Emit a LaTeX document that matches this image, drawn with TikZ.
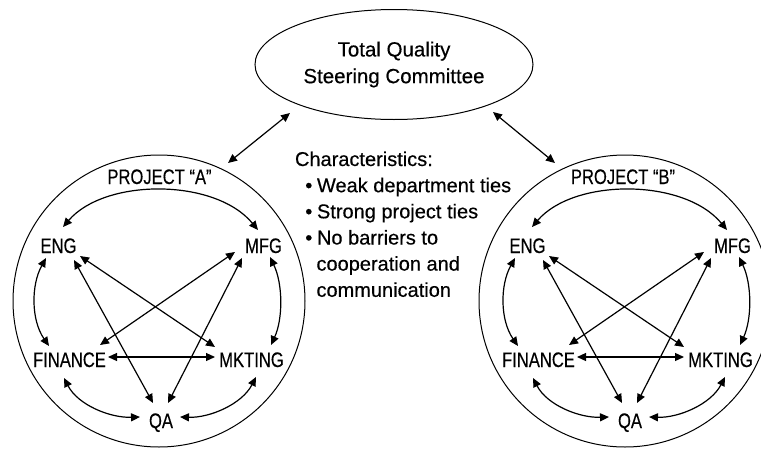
\documentclass[tikz,border=0pt]{standalone}
\usepackage{fontspec}
\setmainfont{Liberation Sans}[FakeBold=0.4]
\usetikzlibrary{arrows.meta,shapes.geometric}
\newcommand\cond[1]{\scalebox{0.79}[1]{#1}}
% #1 prefix, #2 letter, #3 circle centre x, #4 title x, #5 node shift
\newcommand\drawproj[5]{%
  \node[ring] (#1circ) at (#3,301) {};
  \node[lab,anchor=base] (#1title) at (#4,184) {\cond{PROJECT “#2”}};
  \begin{scope}[xshift=#5pt]
    \node[lab,anchor=base] (#1eng) at (58.5,253) {\cond{ENG}};
    \node[lab,anchor=base] (#1mfg) at (263.5,253) {\cond{MFG}};
    \node[lab,anchor=base] (#1fin) at (69.5,367) {\cond{FINANCE}};
    \node[lab,anchor=base] (#1mkt) at (251.5,367) {\cond{MKTING}};
    \node[lab,anchor=base] (#1qa) at (161,428) {\cond{QA}};
  \end{scope}
  \draw[arr] ([shift={(4.5,-26)}]#1eng.base) .. controls +(42,-49) and +(-43,-52) .. ([shift={(-5.5,-23)}]#1mfg.base);
  \draw[arr] ([shift={(-12.5,5)}]#1eng.base) .. controls +(-15,27) and +(-18,-26) .. ([shift={(-20.5,-21)}]#1fin.base);
  \draw[arr] ([shift={(6.5,4)}]#1mfg.base) .. controls +(13,27) and +(12,-26) .. ([shift={(19.5,-22)}]#1mkt.base);
  \draw[arr] ([shift={(-5.5,11)}]#1fin.base) .. controls +(14,27) and +(-30,1) .. ([shift={(-21,-11)}]#1qa.base);
  \draw[arr] ([shift={(4.5,10)}]#1mkt.base) .. controls +(-14,27) and +(30,1) .. ([shift={(19,-11)}]#1qa.base);
  \draw[arr] ([shift={(38.5,-10)}]#1fin.base) -- ([shift={(-36.5,-10)}]#1mkt.base);
  \draw[arr] ([shift={(21.5,3)}]#1eng.base) -- ([shift={(-36.5,-20)}]#1mkt.base);
  \draw[arr] ([shift={(-28.5,-1)}]#1mfg.base) -- ([shift={(30.5,-22)}]#1fin.base);
  \draw[arr] ([shift={(15.5,7)}]#1eng.base) -- ([shift={(-8,-25)}]#1qa.base);
  \draw[arr] ([shift={(-21.5,5)}]#1mfg.base) -- ([shift={(7,-25)}]#1qa.base);
}
\begin{document}
\begin{tikzpicture}[x=1pt,y=-1pt,
  lab/.style={inner sep=0pt, outer sep=0pt, font=\fontsize{21pt}{24pt}\selectfont},
  txt/.style={inner sep=0pt, outer sep=0pt, font=\fontsize{20pt}{26pt}\selectfont, anchor=base west},
  arr/.style={line width=1.2pt, >={Triangle[length=9pt,width=8pt]}, <->},
  ring/.style={draw, circle, line width=1pt, minimum size=292pt, inner sep=0pt, outer sep=0pt}]
\useasboundingbox (0,0) rectangle (761,450);
\node[draw, ellipse, line width=1pt, minimum width=278pt, minimum height=110pt,
  inner sep=0pt, outer sep=0pt, align=center,
  font=\fontsize{20.5pt}{26.7pt}\selectfont] (tq) at (394,64.5) {Total Quality\\Steering Committee};
\drawproj{A}{A}{159}{159.5}{0}
\drawproj{B}{B}{625}{623}{469}
\draw[arr] ([shift={(-104,48.5)}]tq.center) -- ([shift={(69,-138)}]Acirc.center);
\draw[arr] ([shift={(99,47.5)}]tq.center) -- ([shift={(-70,-138)}]Bcirc.center);
\node[txt] (ch0) at (295,166) {Characteristics:};
\node[txt] (ch1) at (305.3,192.2) {\makebox[11.7pt][l]{•}Weak department ties};
\node[txt] (ch2) at (305.3,218.3) {\makebox[11.7pt][l]{•}Strong project ties};
\node[txt] (ch3) at (305.3,244.5) {\makebox[11.7pt][l]{•}No barriers to};
\node[txt] (ch4) at (316.5,270.6) {cooperation and};
\node[txt] (ch5) at (316.5,296.8) {communication};
\end{tikzpicture}
\end{document}
